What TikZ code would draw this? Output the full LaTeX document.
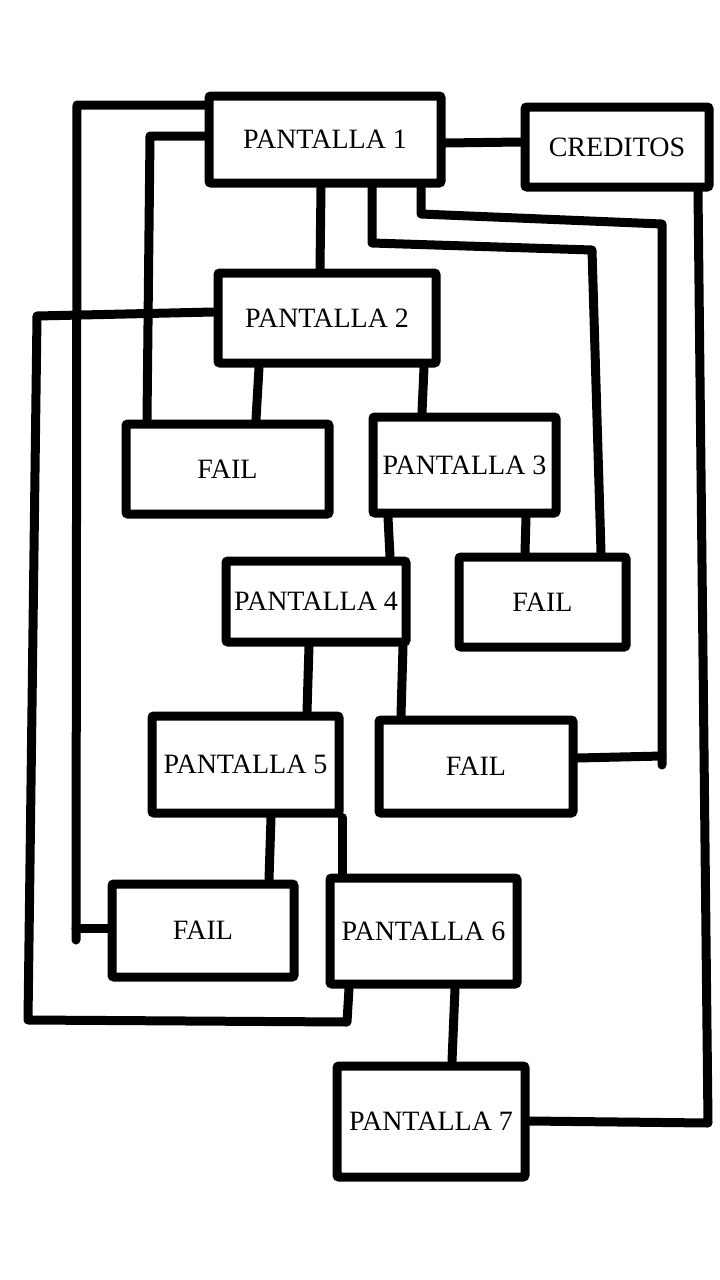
\documentclass[tikz,border=0pt]{standalone}
\usepackage{fontspec}
\setmainfont{Liberation Serif}
\tikzset{
  screen/.style={draw, line width=9pt, rounded corners=2pt, inner sep=0pt,
    font=\fontsize{28}{34}\selectfont},
  wire/.style={line width=9pt, line cap=round, line join=round}
}
\begin{document}
\begin{tikzpicture}[x=1pt, y=-1pt]
      \useasboundingbox (0,0) rectangle (720,1280);
      \node[screen, minimum width=232pt, minimum height=87pt] (p1) at (325,139.5) {PANTALLA 1};
      \node[screen, minimum width=184pt, minimum height=80pt] (cred) at (617,147) {CREDITOS};
      \node[screen, minimum width=218pt, minimum height=90pt] (p2) at (327,318) {PANTALLA 2};
      \node[screen, minimum width=203pt, minimum height=90pt] (faila) at (227.5,469) {FAIL};
      \node[screen, minimum width=183pt, minimum height=96pt] (p3) at (464.5,465) {PANTALLA 3};
      \node[screen, minimum width=180pt, minimum height=81pt] (p4) at (316,601.5) {PANTALLA 4};
      \node[screen, minimum width=167pt, minimum height=90pt] (failb) at (542.5,602) {FAIL};
      \node[screen, minimum width=187pt, minimum height=97pt] (p5) at (245.5,764.5) {PANTALLA 5};
      \node[screen, minimum width=194pt, minimum height=93pt] (failc) at (476,766.5) {FAIL};
      \node[screen, minimum width=182pt, minimum height=93pt] (faild) at (203,930.5) {FAIL};
      \node[screen, minimum width=187pt, minimum height=106pt] (p6) at (423.5,931) {PANTALLA 6};
      \node[screen, minimum width=188pt, minimum height=111pt] (p7) at (431,1121.5) {PANTALLA 7};
      % corners of the long lines
      \coordinate (l1) at (77,105);
      \coordinate (l2) at (76,940);
      \coordinate (l3) at (76,928);
      \coordinate (m1) at (150,136);
      \coordinate (n1) at (37,316);
      \coordinate (n2) at (28,1020);
      \coordinate (n3) at (347,1022);
      \coordinate (r1) at (372,243);
      \coordinate (r2) at (592,250);
      \coordinate (s1) at (421,214);
      \coordinate (s2) at (662,224);
      \coordinate (s3) at (662,765);
      \coordinate (s4) at (662,756);
      \coordinate (t1) at (708,1123);
      \begin{scope}[wire]
        \draw (p1.east |- 0,143) to (cred.west |- 0,142);
        \draw (p1.south -| 321,0) to (p2.north -| 320,0);
        \draw (p1.west |- 0,105) -- (l1) -- (l2);
        \draw (faild.west |- 0,928) to (l3);
        \draw (p1.west |- 0,136) -- (m1) -- (faila.north -| 147,0);
        \draw (p2.west |- 0,312) -- (n1) -- (n2) -- (n3) -- (p6.south -| 349,0);
        \draw (p2.south -| 259,0) to (faila.north -| 256,0);
        \draw (p2.south -| 424,0) to (p3.north -| 422,0);
        \draw (p1.south -| 372,0) -- (r1) -- (r2) -- (failb.north -| 601,0);
        \draw (p1.south -| 421,0) -- (s1) -- (s2) -- (s3);
        \draw (failc.east |- 0,758) to (s4);
        \draw (p3.south -| 388,0) to (p4.north -| 390,0);
        \draw (p3.south -| 526,0) to (failb.north -| 525,0);
        \draw (p4.south -| 309,0) to (p5.north -| 307,0);
        \draw (p4.south -| 403,0) to (failc.north -| 401,0);
        \draw (p5.south -| 271,0) to (faild.north -| 269,0);
        \draw (p5.south -| 342,0) to (p6.north -| 342,0);
        \draw (p6.south -| 455,0) to (p7.north -| 452,0);
        \draw (p7.east |- 0,1121) -- (t1) -- (cred.south -| 698,0);
      \end{scope}
    \end{tikzpicture}
\end{document}
